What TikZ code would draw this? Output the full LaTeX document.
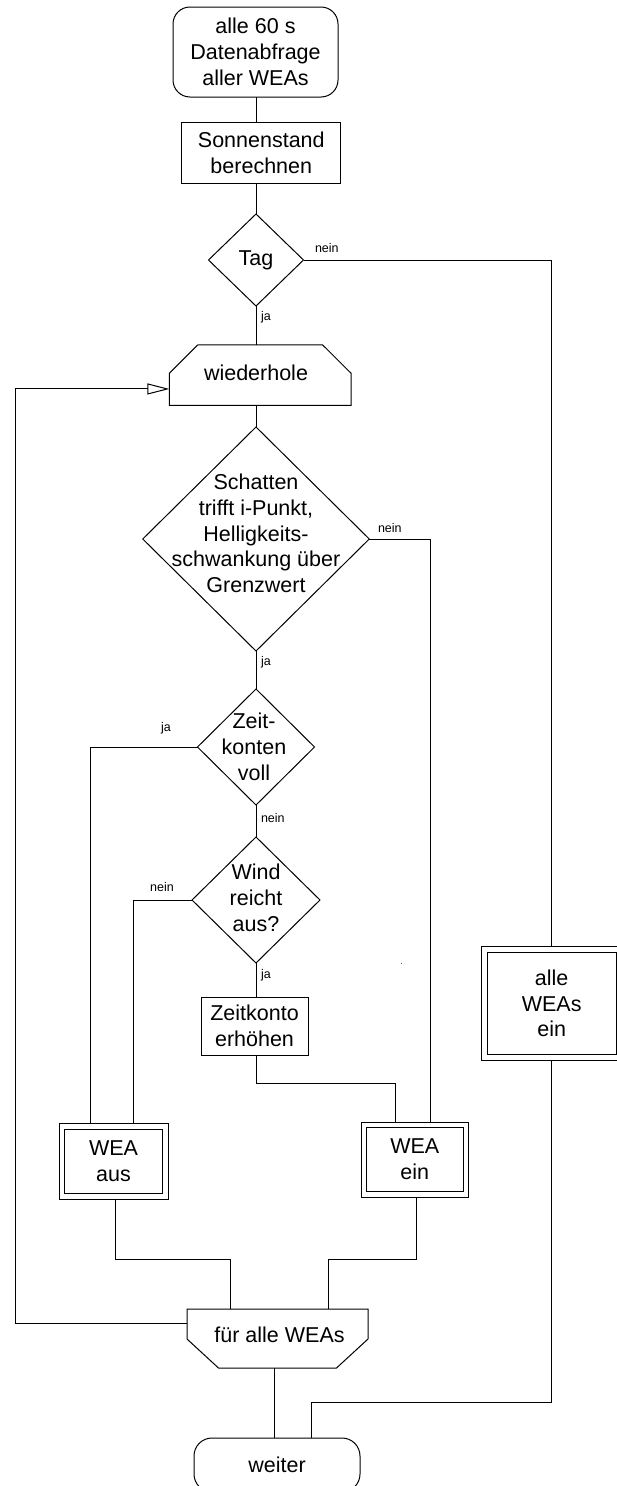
\documentclass[tikz,border=0pt]{standalone}
\usepackage{fontspec}
\setmainfont{Liberation Sans}
\usetikzlibrary{shapes.geometric,arrows.meta}
\newcommand{\mainfs}{\fontsize{21.5}{25.7}\selectfont}
\newcommand{\lblfs}{\fontsize{12.5}{14}\selectfont}
\begin{document}
\begin{tikzpicture}[x=1pt,y=-1pt,line width=1pt,
  every node/.style={inner sep=0pt,outer sep=0pt},
  term/.style={draw,rectangle,rounded corners=17pt,align=center,font=\mainfs},
  proc/.style={draw,rectangle,align=center,font=\mainfs},
  dec/.style={draw,diamond,align=center,font=\mainfs},
  blank/.style={rectangle},
  txt/.style={align=center,font=\mainfs},
  lbl/.style={font=\lblfs},
  openarrow/.style={-{Triangle[open,length=22pt,width=11pt]}}]
\useasboundingbox (0,0) rectangle (617,1486);
% helper coordinates for connector columns
\coordinate (ax) at (256,0);
\coordinate (cr) at (430,0);
\coordinate (cl1) at (90.5,0);
\coordinate (cl2) at (133,0);
\coordinate (cz) at (395,0);
\coordinate (cb1) at (115,0);
\coordinate (cb2) at (230,0);
\coordinate (cb3) at (416,0);
\coordinate (cb4) at (328,0);
\coordinate (cb5) at (274,0);
\coordinate (cb6) at (311,0);
\coordinate (cll) at (15,0);
% nodes
\node[term,minimum width=165pt,minimum height=90pt] (start) at (255.5,52) {alle 60 s\\Datenabfrage\\aller WEAs};
\node[proc,minimum width=159pt,minimum height=61pt] (sonn) at (261.3,152.5) {Sonnenstand\\berechnen};
\node[dec,minimum width=95pt,minimum height=92pt] (tag) at (256,260) {Tag};
\node[blank,minimum width=181.7pt,minimum height=60.5pt] (wdh) at (260.2,375.2) {};
\draw ([xshift=28.4pt]wdh.north west) -- ([xshift=-28.4pt]wdh.north east) -- ([yshift=-28.3pt]wdh.north east) -- (wdh.south east) -- (wdh.south west) -- ([yshift=-28.3pt]wdh.north west) -- cycle;
\node[txt] (wdht) at (256,373) {wiederhole};
\node[dec,minimum width=226.5pt,minimum height=224pt] (d2) at (256,539) {};
\node[txt] (d2t) at (256,533.5) {Schatten\\trifft i-Punkt,\\Helligkeits-\\schwankung über\\Grenzwert};
\node[dec,minimum width=117pt,minimum height=116pt] (zeit) at (256,747) {};
\node[txt] (zeitt) at (254,747) {Zeit-\\konten\\voll};
\node[dec,minimum width=128pt,minimum height=126pt] (wind) at (256,900) {};
\node[txt] (windt) at (256,898) {Wind\\reicht\\aus?};
\node[proc,minimum width=107pt,minimum height=58pt] (zk) at (254.5,1026) {Zeitkonto\\erhöhen};
\node[proc,minimum width=109pt,minimum height=76pt] (aus) at (113.5,1161) {WEA\\aus};
\draw ([shift={(5.5pt,-6pt)}]aus.north west) rectangle ([shift={(-6pt,6pt)}]aus.south east);
\node[proc,minimum width=107.5pt,minimum height=75pt] (weaein) at (414.75,1159.5) {WEA\\ein};
\draw ([shift={(5.5pt,-5.5pt)}]weaein.north west) rectangle ([shift={(-5.5pt,6pt)}]weaein.south east);
\node[proc,minimum width=140pt,minimum height=113.3pt] (alleein) at (551.7,1003.35) {alle\\WEAs\\ein};
\draw ([shift={(5.5pt,-6pt)}]alleein.north west) rectangle ([shift={(-5.5pt,6pt)}]alleein.south east);
\node[blank,minimum width=181pt,minimum height=59pt] (fuer) at (277.5,1338.5) {};
\draw (fuer.north west) -- (fuer.north east) -- ([yshift=29pt]fuer.south east) -- ([xshift=-31.5pt]fuer.south east) -- ([xshift=31.5pt]fuer.south west) -- ([yshift=29pt]fuer.south west) -- cycle;
\node[txt] (fuert) at (279.5,1335) {für alle WEAs};
\node[term,rounded corners=18pt,minimum width=166pt,minimum height=54pt] (weiter) at (277,1465) {weiter};
% connectors
\draw (start.south -| ax) -- (sonn.north -| ax);
\draw (sonn.south -| ax) -- (tag.north);
\draw (tag.south) -- (wdh.north -| ax);
\draw (tag.east) -| (alleein.north);
\draw (wdh.south -| ax) -- (d2.north);
\draw (d2.east) -| (weaein.north -| cr);
\draw (d2.south) -- (zeit.north);
\draw (zeit.west) -| (aus.north -| cl1);
\draw (zeit.south) -- (wind.north);
\draw (wind.west) -| (aus.north -| cl2);
\draw (wind.south) -- (zk.north -| ax);
\draw (zk.south -| ax) -- ++(0,28) -| (weaein.north -| cz);
\draw (aus.south -| cb1) -- ++(0,60) -| (fuer.north -| cb2);
\draw (weaein.south -| cb3) -- ++(0,62) -| (fuer.north -| cb4);
\coordinate (lf) at ([yshift=-14pt]fuer.north west);
\coordinate (lw) at ([yshift=16.5pt]wdh.south west);
\draw[openarrow] (lf) -- (lf -| cll) -- (lw -| cll) -- (lw);
\draw (fuer.south -| cb5) -- (weiter.north -| cb5);
\draw (alleein.south) -- ++(0,342) -| (weiter.north -| cb6);
% labels
\node[lbl,anchor=west] (l1) at (315,248) {nein};
\node[lbl,anchor=west] (l2) at (261,317) {ja};
\node[lbl,anchor=west] (l3) at (378,528) {nein};
\node[lbl,anchor=west] (l4) at (261,662) {ja};
\node[lbl] (l5) at (166,728) {ja};
\node[lbl,anchor=west] (l6) at (261,818) {nein};
\node[lbl] (l7) at (162,887) {nein};
\node[lbl,anchor=west] (l8) at (261,975) {ja};
\fill[black!60] (401.5,963.5) circle (0.7pt);
\end{tikzpicture}
\end{document}
